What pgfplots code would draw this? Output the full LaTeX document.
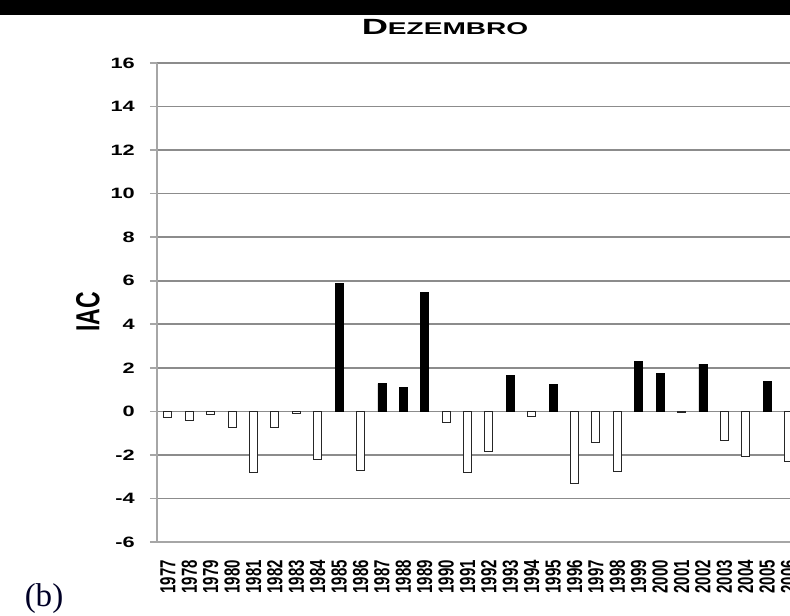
\documentclass[border=0pt]{standalone}
\usepackage{fontspec}
\setmainfont{Liberation Sans}
\setsansfont{Liberation Sans}
\newfontfamily\seriffont{Liberation Serif}
\usepackage{pgfplots}
\usepackage{pgfplotstable}
\pgfplotsset{compat=1.18}

% IAC de dezembro, 1977-2006 (idx = posicao no eixo)
\pgfplotstableread{
idx year iac
0  1977 -0.30
1  1978 -0.42
2  1979 -0.13
3  1980 -0.72
4  1981 -2.83
5  1982 -0.72
6  1983 -0.12
7  1984 -2.22
8  1985 5.89
9  1986 -2.72
10 1987 1.27
11 1988 1.09
12 1989 5.47
13 1990 -0.50
14 1991 -2.83
15 1992 -1.83
16 1993 1.67
17 1994 -0.25
18 1995 1.24
19 1996 -3.32
20 1997 -1.41
21 1998 -2.75
22 1999 2.29
23 2000 1.76
24 2001 -0.05
25 2002 2.17
26 2003 -1.33
27 2004 -2.05
28 2005 1.38
29 2006 -2.32
}\iacdata

\begin{document}
\begin{tikzpicture}
\useasboundingbox (-78.5pt,-36.5pt) rectangle (316.5pt,271pt);
\fill[black] (-78.5pt,263.5pt) rectangle (316.5pt,271pt);
\begin{axis}[
    at={(0pt,0pt)}, anchor=south west,
    scale only axis, width=316.5pt, height=239.5pt,
    xmin=-0.51, xmax=29.07, ymin=-6, ymax=16,
    ytick={-6,-4,...,16},
    xtick={0,...,29},
    xticklabels={1977,1978,1979,1980,1981,1982,1983,1984,1985,1986,
                 1987,1988,1989,1990,1991,1992,1993,1994,1995,1996,
                 1997,1998,1999,2000,2001,2002,2003,2004,2005,2006},
    axis x line*=bottom, axis y line*=left,
    axis line style={black!35, line width=0.8pt},
    ymajorgrids, grid style={black!45, line width=0.8pt},
    tick align=outside, major tick length=3.5pt,
    ytick style={black!35, line width=0.8pt},
    xtick style={draw=none},
    ticklabel style={font=\bfseries\fontsize{7.5}{8}\selectfont},
    yticklabel style={xscale=1.45},
    yticklabel shift=2.5pt,
    xticklabel style={rotate=90, yscale=1.45, anchor=east},
    xticklabel shift=2pt,
    /pgf/number format/assume math mode=true,
    ybar,
]
\addplot[fill=black, draw=black, line width=0.4pt, bar width=4pt, bar shift=0pt,
         restrict y to domain=0:100] table[x=idx, y=iac] {\iacdata};
\addplot[fill=white, draw=black!85, line width=0.5pt, bar width=4pt, bar shift=0pt,
         restrict y to domain=-100:0] table[x=idx, y=iac] {\iacdata};
\end{axis}
\node[anchor=base, font=\bfseries, xscale=1.65] at (144pt,253.5pt)
    {{\fontsize{11}{12}\selectfont D}{\fontsize{8.5}{10}\selectfont EZEMBRO}};
\node[rotate=90, yscale=1.45, font=\bfseries\fontsize{11.5}{12}\selectfont] at (-34.5pt,115pt) {IAC};
\node[anchor=base, font=\seriffont\fontsize{16.5}{18}\selectfont, text=black!85!blue] at (-56.5pt,-32pt) {(b)};
\end{tikzpicture}
\end{document}
